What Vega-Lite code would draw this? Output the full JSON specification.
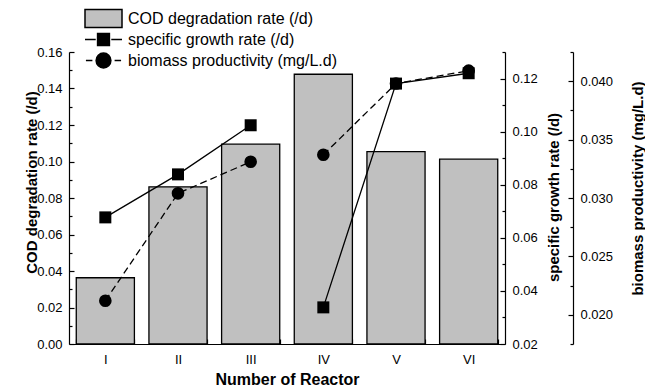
{
  "$schema": "https://vega.github.io/schema/vega-lite/v6.json",
  "width": 436,
  "height": 292,
  "autosize": "none",
  "padding": {"left": 69, "top": 52, "right": 140, "bottom": 48},
  "config": {
    "font": "Liberation Sans",
    "view": {"stroke": null},
    "axis": {
      "domainColor": "black", "tickColor": "black", "labelColor": "black", "titleColor": "black",
      "domainWidth": 1.2, "tickWidth": 1.2, "labelFontSize": 13, "titleFontSize": 15,
      "titleFontWeight": "bold", "grid": false, "labelFont": "Liberation Sans", "titleFont": "Liberation Sans"
    }
  },
  "datasets": {
    "main": [
      {"reactor": "I", "cod": 0.0363, "sgr": 0.0677, "bp": 0.0212, "seg": "a"},
      {"reactor": "II", "cod": 0.0861, "sgr": 0.0839, "bp": 0.0304, "seg": "a"},
      {"reactor": "III", "cod": 0.1095, "sgr": 0.1024, "bp": 0.0331, "seg": "a"},
      {"reactor": "IV", "cod": 0.1478, "sgr": 0.0338, "bp": 0.0337, "seg": "b"},
      {"reactor": "V", "cod": 0.1054, "sgr": 0.1181, "bp": 0.0398, "seg": "b"},
      {"reactor": "VI", "cod": 0.1013, "sgr": 0.1220, "bp": 0.0409, "seg": "b"}
    ],
    "leg": [
      {"series": "COD degradation rate (/d)"},
      {"series": "specific growth rate (/d)"},
      {"series": "biomass productivity (mg/L.d)"}
    ]
  },
  "encoding": {
    "x": {
      "field": "reactor", "type": "nominal",
      "scale": {"domain": ["I", "II", "III", "IV", "V", "VI"], "paddingInner": 0.2, "paddingOuter": 0.1},
      "axis": {
        "title": "Number of Reactor", "labelAngle": 0, "tickBand": "extent", "tickSize": -5,
        "labelPadding": 14, "titleFontSize": 16, "titleY": 40, "titleBaseline": "alphabetic"
      }
    }
  },
  "layer": [
    {
      "data": {"name": "main"},
      "mark": {"type": "bar", "fill": "#c0c0c0", "stroke": "black", "strokeWidth": 1.3},
      "encoding": {
        "y": {
          "field": "cod", "type": "quantitative",
          "scale": {"domain": [0, 0.16], "nice": false},
          "axis": {
            "title": "COD degradation rate (/d)",
            "values": [0, 0.01, 0.02, 0.03, 0.04, 0.05, 0.06, 0.07, 0.08, 0.09, 0.1, 0.11, 0.12, 0.13, 0.14, 0.15, 0.16],
            "labelExpr": "round(datum.value*100) % 2 == 0 ? format(datum.value, '.2f') : ''",
            "tickSize": -5,
            "tickDash": {"condition": {"test": "round(datum.value*100) % 2 == 0", "value": [10, 0]}, "value": [3, 20]},
            "labelPadding": 12,
            "titleX": -33, "titleY": 130, "titleAngle": 270, "titleAlign": "center", "titleBaseline": "alphabetic"
          }
        }
      }
    },
    {
      "data": {"name": "main"},
      "encoding": {
        "y": {
          "field": "sgr", "type": "quantitative",
          "scale": {"domain": [0.02, 0.13], "nice": false, "zero": false},
          "axis": {
            "orient": "right",
            "title": "specific growth rate (/d)",
            "values": [0.02, 0.03, 0.04, 0.05, 0.06, 0.07, 0.08, 0.09, 0.1, 0.11, 0.12, 0.13],
            "labelExpr": "round(datum.value*100) % 2 == 0 ? format(datum.value, '.2f') : ''",
            "tickSize": -5,
            "tickDash": {"condition": {"test": "round(datum.value*100) % 2 == 0", "value": [10, 0]}, "value": [3, 20]},
            "labelPadding": 12,
            "titleX": 53, "titleY": 145, "titleAngle": 270, "titleAlign": "center", "titleBaseline": "alphabetic"
          }
        }
      },
      "layer": [
        {"mark": {"type": "line", "color": "black", "strokeWidth": 1.3}, "encoding": {"detail": {"field": "seg"}}},
        {"mark": {"type": "point", "shape": "square", "size": 144, "filled": true, "color": "black", "opacity": 1}}
      ]
    },
    {
      "data": {"name": "main"},
      "encoding": {
        "y": {
          "field": "bp", "type": "quantitative",
          "scale": {"domain": [0.0175, 0.0425], "nice": false, "zero": false},
          "axis": {
            "orient": "right", "offset": 68,
            "title": "biomass productivity (mg/L.d)",
            "values": [0.0175, 0.02, 0.0225, 0.025, 0.0275, 0.03, 0.0325, 0.035, 0.0375, 0.04, 0.0425],
            "labelExpr": "round(datum.value*10000) % 50 == 0 ? format(datum.value, '.3f') : ''",
            "tickSize": -5,
            "tickDash": {"condition": {"test": "round(datum.value*10000) % 50 == 0", "value": [10, 0]}, "value": [3, 20]},
            "labelPadding": 12,
            "titleX": 69, "titleY": 136, "titleAngle": 270, "titleAlign": "center", "titleBaseline": "alphabetic"
          }
        }
      },
      "layer": [
        {"mark": {"type": "line", "color": "black", "strokeWidth": 1.3, "strokeDash": [7, 4]}, "encoding": {"detail": {"field": "seg"}}},
        {"mark": {"type": "point", "shape": "circle", "size": 160, "filled": true, "color": "black", "opacity": 1}}
      ]
    },
    {
      "data": {"name": "leg"},
      "mark": {"type": "point", "filled": true, "opacity": 0, "strokeWidth": 1.5},
      "encoding": {
        "color": {
          "field": "series", "type": "nominal",
          "scale": {"domain": ["COD degradation rate (/d)", "specific growth rate (/d)", "biomass productivity (mg/L.d)"], "range": ["#c0c0c0", "black", "black"]},
          "legend": {
            "title": null, "orient": "none", "legendX": 15, "legendY": -44, "symbolSize": 1369,
            "symbolStrokeColor": "black", "symbolStrokeWidth": 1.5, "symbolOpacity": 1,
            "labelFontSize": 16, "labelFont": "Liberation Sans", "labelColor": "black", "labelOffset": 5,
            "rowPadding": 0, "clipHeight": 21, "padding": 0, "labelLimit": 400
          }
        },
        "stroke": {
          "field": "series", "type": "nominal",
          "scale": {"domain": ["COD degradation rate (/d)", "specific growth rate (/d)", "biomass productivity (mg/L.d)"], "range": ["black", "black", "black"]},
          "legend": {
            "title": null, "orient": "none", "legendX": 15, "legendY": -44, "symbolSize": 1369,
            "symbolStrokeColor": "black", "symbolStrokeWidth": 1.5, "symbolOpacity": 1,
            "labelFontSize": 16, "labelFont": "Liberation Sans", "labelColor": "black", "labelOffset": 5,
            "rowPadding": 0, "clipHeight": 21, "padding": 0, "labelLimit": 400
          }
        },
        "shape": {
          "field": "series", "type": "nominal",
          "scale": {
            "domain": ["COD degradation rate (/d)", "specific growth rate (/d)", "biomass productivity (mg/L.d)"],
            "range": [
              "M-1,-0.48H1V0.48H-1Z",
              "M-1,0H-0.42M-0.32,-0.32H0.32V0.32H-0.32ZM0.42,0H1",
              "M-0.95,0H-0.6M0.4,0A0.4,0.4,0,1,1,-0.4,0A0.4,0.4,0,1,1,0.4,0ZM0.6,0H0.95"
            ]
          },
          "legend": {
            "title": null, "orient": "none", "legendX": 15, "legendY": -44, "symbolSize": 1369,
            "symbolStrokeColor": "black", "symbolStrokeWidth": 1.5, "symbolOpacity": 1,
            "labelFontSize": 16, "labelFont": "Liberation Sans", "labelColor": "black", "labelOffset": 5,
            "rowPadding": 0, "clipHeight": 21, "padding": 0, "labelLimit": 400
          }
        }
      }
    }
  ],
  "resolve": {"scale": {"y": "independent"}}
}
